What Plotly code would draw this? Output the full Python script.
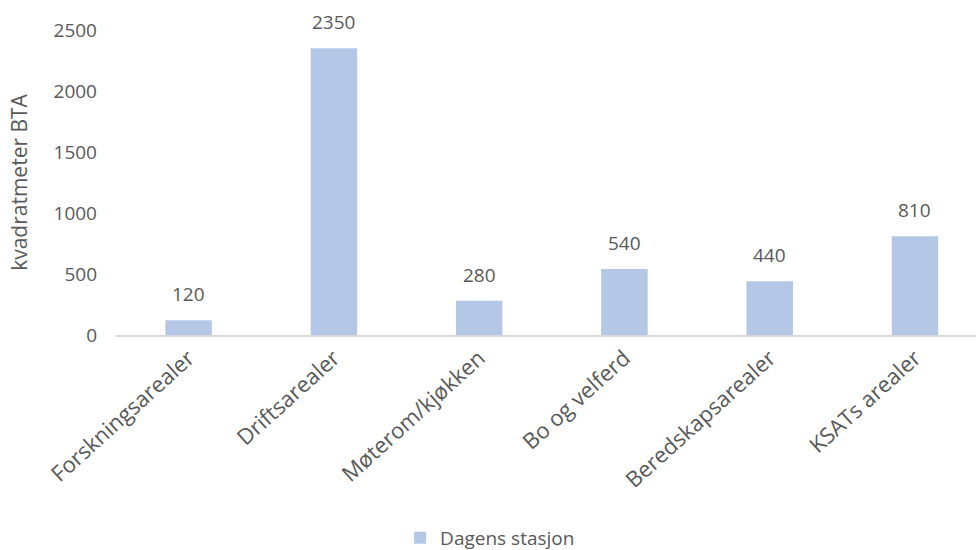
import plotly.graph_objects as go

categories = ["Forskningsarealer", "Driftsarealer", "Møterom/kjøkken", "Bo og velferd", "Beredskapsarealer", "KSATs arealer"]
values = [120, 2350, 280, 540, 440, 810]
series_name = "Dagens stasjon"
y_ticks = [0, 500, 1000, 1500, 2000, 2500]

font_fam = "Open Sans, Liberation Sans, sans-serif"
grey = "#595959"

fig = go.Figure()
fig.add_trace(go.Bar(
    x=categories, y=values, name=series_name,
    marker=dict(color="#B4C7E7", line=dict(width=0)),
    width=0.32,
    cliponaxis=False,
    showlegend=True,
))

for c, v in zip(categories, values):
    fig.add_annotation(x=c, y=v, text=str(v), showarrow=False,
                       yanchor="bottom", yshift=11,
                       font=dict(family=font_fam, size=19, color=grey))

fig.update_layout(
    width=976, height=550,
    margin=dict(l=116, r=0, t=30, b=215),
    paper_bgcolor="white", plot_bgcolor="white",
    font=dict(family=font_fam, size=18, color=grey),
    xaxis=dict(
        range=[-0.5, 5.42], automargin=False,
        showline=True, linecolor="#D9D9D9", linewidth=1.5,
        tickangle=-42, showgrid=False, ticks="",
        tickfont=dict(family=font_fam, size=22, color=grey),
    ),
    yaxis=dict(
        range=[0, 2500], tickvals=y_ticks, automargin=False,
        showgrid=False, zeroline=False, showline=False,
        ticks="", ticklabelstandoff=18,
        tickfont=dict(family=font_fam, size=19, color=grey),
        title=dict(text="kvadratmeter BTA", font=dict(family=font_fam, size=21, color=grey), standoff=20),
    ),
    showlegend=True,
    legend=dict(orientation="h", x=0.435, xanchor="center",
                yref="container", y=0.022, yanchor="middle",
                font=dict(family=font_fam, size=19, color=grey), itemwidth=30),
)

fig.write_html("out.html")
